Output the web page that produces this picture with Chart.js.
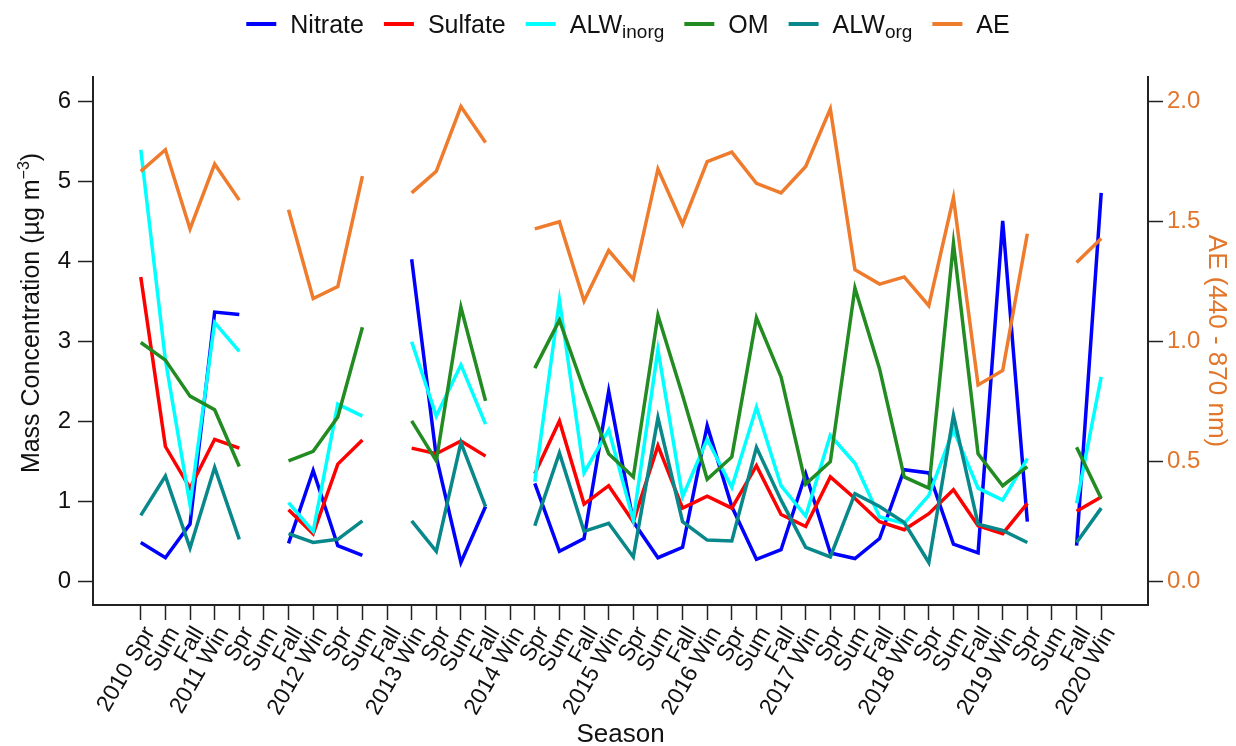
<!DOCTYPE html>
<html>
<head>
<meta charset="utf-8">
<script src="https://cdn.jsdelivr.net/npm/chart.js@4/dist/chart.umd.min.js"></script>
<style>
html,body{margin:0;padding:0;background:#fff;}
#wrap{width:1236px;height:746px;}
</style>
</head>
<body>
<div id="wrap"><canvas id="c" width="1236" height="746"></canvas></div>
<script>
// ---- data ----
const seasons = ['2010 Spr','Sum','Fall','2011 Win','Spr','Sum','Fall','2012 Win','Spr','Sum','Fall','2013 Win','Spr','Sum','Fall','2014 Win','Spr','Sum','Fall','2015 Win','Spr','Sum','Fall','2016 Win','Spr','Sum','Fall','2017 Win','Spr','Sum','Fall','2018 Win','Spr','Sum','Fall','2019 Win','Spr','Sum','Fall','2020 Win'];
const nitrate  = [0.49,0.30,0.72,3.37,3.34,null,0.48,1.39,0.45,0.33,null,4.03,1.56,0.24,0.94,null,1.23,0.38,0.54,2.38,0.75,0.30,0.43,1.95,0.94,0.28,0.40,1.35,0.36,0.29,0.54,1.40,1.36,0.47,0.36,4.51,0.75,null,0.45,4.86];
const sulfate  = [3.81,1.69,1.17,1.78,1.67,null,0.90,0.60,1.47,1.77,null,1.67,1.60,1.76,1.57,null,1.35,2.01,0.97,1.20,0.75,1.70,0.92,1.07,0.92,1.45,0.84,0.69,1.31,1.04,0.75,0.65,0.85,1.15,0.70,0.60,0.98,null,0.88,1.06];
const alwInorg = [5.40,2.77,0.96,3.24,2.88,null,0.99,0.63,2.22,2.07,null,3.00,2.07,2.71,1.97,null,1.25,3.52,1.36,1.90,0.77,2.90,1.06,1.78,1.18,2.18,1.20,0.82,1.83,1.48,0.81,0.73,1.08,1.90,1.17,1.02,1.54,null,0.98,2.56];
const om       = [2.99,2.77,2.32,2.15,1.44,null,1.51,1.63,2.06,3.18,null,2.01,1.51,3.43,2.26,null,2.67,3.27,2.40,1.60,1.31,3.33,2.33,1.28,1.56,3.30,2.56,1.22,1.50,3.67,2.66,1.31,1.17,4.23,1.60,1.20,1.44,null,1.68,1.04];
const alwOrg   = [0.83,1.32,0.42,1.43,0.53,null,0.60,0.49,0.53,0.76,null,0.76,0.38,1.74,0.94,null,0.70,1.61,0.63,0.73,0.31,2.05,0.75,0.52,0.51,1.68,1.02,0.43,0.31,1.10,0.94,0.74,0.24,2.08,0.72,0.64,0.49,null,0.49,0.92];
const ae       = [1.71,1.80,1.47,1.74,1.59,null,1.55,1.18,1.23,1.69,null,1.62,1.71,1.98,1.83,null,1.47,1.50,1.17,1.38,1.26,1.72,1.49,1.75,1.79,1.66,1.62,1.73,1.97,1.30,1.24,1.27,1.15,1.60,0.82,0.88,1.45,null,1.33,1.43];
const massTicks = [0,1,2,3,4,5,6];
const aeTicks = [0,0.5,1.0,1.5,2.0];
const seriesNames = ['Nitrate','Sulfate','ALW','OM','ALW','AE'];
const seriesSubs  = ['','','inorg','','org',''];

// ---- styles ----
const FONT = "'Liberation Sans', Arial, Helvetica, sans-serif";
const AXIS = '#222222';
const TXT = '#111111';
const AE_TEXT = '#e2762a';
const colors = ['#0000ff','#ff0000','#00ffff','#228b22','#08888a','#ef7b2c'];

const toPts = arr => arr.map((v, i) => ({x: i, y: v}));
const seriesData = [nitrate, sulfate, alwInorg, om, alwOrg, ae];

const datasets = seriesData.map((arr, k) => ({
  label: seriesNames[k] + seriesSubs[k],
  data: toPts(arr),
  borderColor: colors[k],
  backgroundColor: colors[k],
  borderWidth: 3.5,
  pointRadius: 0,
  fill: false,
  tension: 0,
  spanGaps: false,
  yAxisID: k === 5 ? 'y2' : 'y',
  order: 6 - k
}));

const legendPlugin = {
  id: 'customLegend',
  afterDraw(chart) {
    const ctx = chart.ctx;
    ctx.save();
    const mainSize = 25, subSize = 19, lineLen = 30, gap1 = 14, gap2 = 20;
    const widths = seriesNames.map((n, k) => {
      ctx.font = mainSize + 'px ' + FONT;
      let w = ctx.measureText(n).width;
      if (seriesSubs[k]) { ctx.font = subSize + 'px ' + FONT; w += ctx.measureText(seriesSubs[k]).width; }
      return w;
    });
    let total = 0;
    widths.forEach(w => total += lineLen + gap1 + w);
    total += gap2 * (widths.length - 1);
    let x = 628 - total / 2;
    const lineY = 24, baseY = 33;
    seriesNames.forEach((n, k) => {
      ctx.strokeStyle = colors[k];
      ctx.lineWidth = 4;
      ctx.beginPath();
      ctx.moveTo(x, lineY);
      ctx.lineTo(x + lineLen, lineY);
      ctx.stroke();
      x += lineLen + gap1;
      ctx.fillStyle = TXT;
      ctx.textAlign = 'left';
      ctx.textBaseline = 'alphabetic';
      ctx.font = mainSize + 'px ' + FONT;
      ctx.fillText(n, x, baseY);
      let w = ctx.measureText(n).width;
      if (seriesSubs[k]) {
        ctx.font = subSize + 'px ' + FONT;
        ctx.fillText(seriesSubs[k], x + w, baseY + 5);
        w += ctx.measureText(seriesSubs[k]).width;
      }
      x += w + gap2;
    });
    ctx.restore();
  }
};

const leftTitlePlugin = {
  id: 'leftTitle',
  afterDraw(chart) {
    const ctx = chart.ctx;
    ctx.save();
    const main = 'Mass Concentration (\u00B5g m', sup = '\u22123', close = ')';
    ctx.font = '25px ' + FONT;
    const w1 = ctx.measureText(main).width;
    const w3 = ctx.measureText(close).width;
    ctx.font = '16px ' + FONT;
    const w2 = ctx.measureText(sup).width;
    const total = w1 + w2 + w3;
    ctx.translate(39, 313 + total / 2);
    ctx.rotate(-Math.PI / 2);
    ctx.fillStyle = TXT;
    ctx.textAlign = 'left';
    ctx.textBaseline = 'alphabetic';
    ctx.font = '25px ' + FONT;
    ctx.fillText(main, 0, 0);
    ctx.font = '16px ' + FONT;
    ctx.fillText(sup, w1, -10);
    ctx.font = '25px ' + FONT;
    ctx.fillText(close, w1 + w2, 0);
    ctx.restore();
  }
};

new Chart(document.getElementById('c'), {
  type: 'line',
  data: { datasets },
  plugins: [legendPlugin, leftTitlePlugin],
  options: {
    responsive: false,
    animation: false,
    devicePixelRatio: 1,
    layout: { padding: { top: 77, left: 0, right: 0, bottom: 0 } },
    plugins: { legend: { display: false }, tooltip: { enabled: false } },
    scales: {
      x: {
        type: 'linear',
        min: -1.94,
        max: 40.9,
        afterBuildTicks: s => { s.ticks = seasons.map((_, i) => ({ value: i })); },
        afterFit: s => { s.height = 141; },
        ticks: {
          autoSkip: false,
          minRotation: 60,
          maxRotation: 60,
          padding: 2,
          labelOffset: 9,
          color: TXT,
          font: { family: FONT, size: 23 },
          callback: v => (seasons[v] !== undefined ? seasons[v] : '')
        },
        grid: { drawOnChartArea: false, drawTicks: true, tickLength: 15, tickColor: AXIS, tickWidth: 1.5 },
        border: { display: true, color: AXIS, width: 2 },
        title: { display: true, text: 'Season', color: TXT, font: { family: FONT, size: 26 }, padding: { top: 0, bottom: -4 } }
      },
      y: {
        type: 'linear',
        position: 'left',
        min: -0.291,
        max: 6.309,
        afterBuildTicks: s => { s.ticks = massTicks.map(v => ({ value: v })); },
        afterFit: s => { s.width = 93; },
        ticks: { padding: 7, color: TXT, font: { family: FONT, size: 24 }, callback: v => String(v) },
        grid: { drawOnChartArea: false, drawTicks: true, tickLength: 15, tickColor: AXIS, tickWidth: 1.5 },
        border: { display: true, color: AXIS, width: 2 },
        title: { display: false }
      },
      y2: {
        type: 'linear',
        position: 'right',
        min: -0.097,
        max: 2.103,
        afterBuildTicks: s => { s.ticks = aeTicks.map(v => ({ value: v })); },
        afterFit: s => { s.width = 88; },
        ticks: { padding: 4, color: AE_TEXT, font: { family: FONT, size: 24 }, callback: v => Number(v).toFixed(1) },
        grid: { drawOnChartArea: false, drawTicks: true, tickLength: 15, tickColor: AXIS, tickWidth: 1.5 },
        border: { display: true, color: AXIS, width: 2 },
        title: { display: true, text: 'AE (440 - 870 nm)', color: AE_TEXT, font: { family: FONT, size: 26 }, padding: { top: 4, bottom: 4 } }
      }
    }
  }
});
</script>
</body>
</html>
